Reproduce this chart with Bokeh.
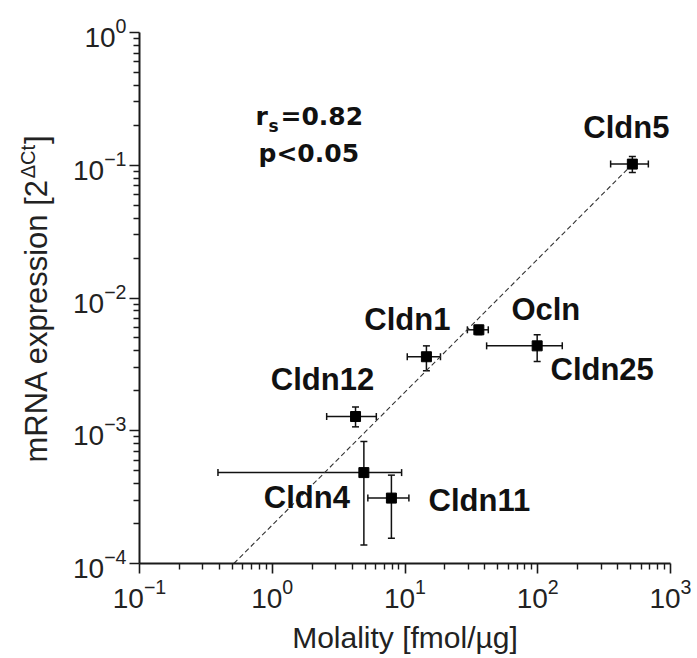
import math
from bokeh.plotting import figure
from bokeh.layouts import row
from bokeh.models import (ColumnDataSource, Whisker, TeeHead, Label, FixedTicker,
                          Range1d, LogTickFormatter)
from bokeh.core.properties import value
from bokeh.embed import file_html
from bokeh.resources import INLINE

# ---------------- data ----------------
genes    = ["Cldn1", "Cldn4", "Cldn5", "Cldn11", "Cldn12", "Cldn25", "Ocln"]
molality = [14.5, 4.9, 516.0, 7.9, 4.24, 99.0, 36.0]          # fmol/µg
mol_lo   = [10.4, 0.39, 354.0, 5.25, 2.57, 41.2, 29.5]
mol_hi   = [18.5, 9.43, 681.0, 10.7, 6.08, 153.0, 42.4]
mrna     = [0.00361, 0.000484, 0.102, 0.000311, 0.00128, 0.00436, 0.00576]
mrna_lo  = [0.00283, 0.000138, 0.0882, 0.000155, 0.00107, 0.00332, 0.0053]
mrna_hi  = [0.00436, 0.00083, 0.1164, 0.000463, 0.00151, 0.00528, 0.0062]

fit_x = [0.514, 487.0]      # regression line end points
fit_y = [1.0e-4, 0.096]

x_decades = [0.1, 1, 10, 100, 1000]
y_decades = [1e-4, 1e-3, 1e-2, 1e-1, 1]

stat_r = "=0.82"
stat_p = "p<0.05"

# label placement (pixels, right / down) - layout only
label_offsets = {
    "Cldn1": (-19, -37), "Cldn4": (-57, 25), "Cldn5": (-6, -37),
    "Cldn11": (88, 2), "Cldn12": (-33, -37), "Cldn25": (65, 24), "Ocln": (67, -20),
}

# ---------------- layout geometry ----------------
TOTAL_W, H = 697, 658
LW = 60                      # narrow strip holding the y-axis title
FX0, FY_TOP, FW, FH = 139, 32, 531, 531
FY0 = FY_TOP + FH            # page y of frame bottom
W = TOTAL_W - LW

p = figure(width=W, height=H, x_axis_type="log", y_axis_type="log",
           x_range=Range1d(0.1, 1000), y_range=Range1d(1e-4, 1),
           output_backend="svg", toolbar_location=None,
           min_border_left=FX0 - LW, min_border_top=FY_TOP,
           min_border_right=W - (FX0 - LW) - FW, min_border_bottom=H - FY0)
p.outline_line_color = None
p.grid.visible = False

def minors(decs):
    out = []
    for d in decs[:-1]:
        for m in range(2, 10):
            out.append(m * d)
    return out

p.xaxis.ticker = FixedTicker(ticks=x_decades, minor_ticks=minors(x_decades))
p.yaxis.ticker = FixedTicker(ticks=y_decades, minor_ticks=minors(y_decades))

for ax in (p.xaxis, p.yaxis):
    ax.axis_line_width = 2
    ax.axis_line_color = "#1a1a1a"
    ax.major_tick_line_color = "#1a1a1a"
    ax.minor_tick_line_color = "#1a1a1a"
    ax.major_tick_line_width = 1.6
    ax.minor_tick_line_width = 1.4
    ax.major_tick_in = 0
    ax.major_tick_out = 10
    ax.minor_tick_in = 0
    ax.minor_tick_out = 6
    ax.major_label_text_font = "Liberation Sans"
    ax.major_label_text_font_size = "28px"
    ax.major_label_text_color = "#222222"
    ax.formatter = LogTickFormatter()
p.xaxis.major_label_standoff = 5
p.yaxis.major_label_standoff = 3

p.xaxis.axis_label = "Molality [fmol/µg]"
p.xaxis.axis_label_text_font = "Liberation Sans"
p.xaxis.axis_label_text_font_style = "normal"
p.xaxis.axis_label_text_font_size = "30px"
p.xaxis.axis_label_text_color = "#222222"
p.xaxis.axis_label_standoff = 10

# regression line
p.line(fit_x, fit_y, line_dash="5 3", line_width=1.1, line_color="#333333")

src = ColumnDataSource(dict(
    gene=genes, x=molality, xlo=mol_lo, xhi=mol_hi,
    y=mrna, ylo=mrna_lo, yhi=mrna_hi,
    dx=[label_offsets[g][0] for g in genes],
    dy=[label_offsets[g][1] for g in genes],
))

p.scatter("x", "y", source=src, marker="square", size=10,
          fill_color="black", line_color="black")

for dim, base, lo, hi in (("width", "y", "xlo", "xhi"), ("height", "x", "ylo", "yhi")):
    w = Whisker(source=src, base=base, lower=lo, upper=hi, dimension=dim,
                line_color="#111111", line_width=1.5,
                lower_head=TeeHead(size=7, line_color="#111111", line_width=1.5),
                upper_head=TeeHead(size=7, line_color="#111111", line_width=1.5))
    p.add_layout(w)

p.text("x", "y", text="gene", source=src, x_offset="dx", y_offset="dy",
       text_font=value("Liberation Sans"), text_font_style="bold",
       text_font_size="31px", text_color="#111111",
       text_align="center", text_baseline="middle")

# ---------------- statistics text (anchored at glyph middles) ----------------
def sx(px): return px - FX0
def sy(py): return FY0 - py

stat_font = dict(text_font="DejaVu Sans", text_font_style="bold", text_color="#111111",
                 x_units="screen", y_units="screen", text_baseline="middle",
                 text_align="left")
p.add_layout(Label(x=sx(255), y=sy(115.5), text="r", text_font_size="25px", **stat_font))
p.add_layout(Label(x=sx(268), y=sy(125), text="s", text_font_size="17px", **stat_font))
p.add_layout(Label(x=sx(280), y=sy(115.5), text=stat_r, text_font_size="25px", **stat_font))
p.add_layout(Label(x=sx(258), y=sy(153), text=stat_p, text_font_size="25px", **stat_font))

# ---------------- y-axis title strip ----------------
# the row aligns this strip's frame with the main frame (page y 32..563)
lab = figure(width=LW, height=H, x_range=Range1d(0, LW),
             y_range=Range1d(H - FY0, H - FY_TOP),
             x_axis_location=None, y_axis_location=None,
             output_backend="svg", toolbar_location=None,
             min_border=0, min_border_left=0, min_border_right=0,
             min_border_top=FY_TOP, min_border_bottom=H - FY0)
lab.outline_line_color = None
lab.grid.visible = False

title_font = dict(text_font="Liberation Sans", text_color="#222222",
                  text_baseline="middle", text_align="center", angle=math.pi / 2)
ylab_main = "mRNA expression [2"
ylab_sup = "ΔCt"
ylab_end = "]"
start = 462.0                     # page y where the title begins (bottom)
base_x = 46.7                     # page x of the title baseline
main_len = 9.169 * 31
sup_len = 1.668 * 20
c_main = start - main_len / 2
c_sup = start - main_len - sup_len / 2
c_end = start - main_len - sup_len - 1 - 0.278 * 31 / 2
lab.add_layout(Label(x=base_x - 0.358 * 31, y=H - c_main, text=ylab_main,
                     text_font_size="31px", **title_font))
lab.add_layout(Label(x=base_x - 12 - 0.358 * 20, y=H - c_sup, text=ylab_sup,
                     text_font_size="20px", **title_font))
lab.add_layout(Label(x=base_x - 0.358 * 31, y=H - c_end, text=ylab_end,
                     text_font_size="31px", **title_font))

layout = row(lab, p, spacing=0)
open("out.html", "w").write(file_html(layout, INLINE))
